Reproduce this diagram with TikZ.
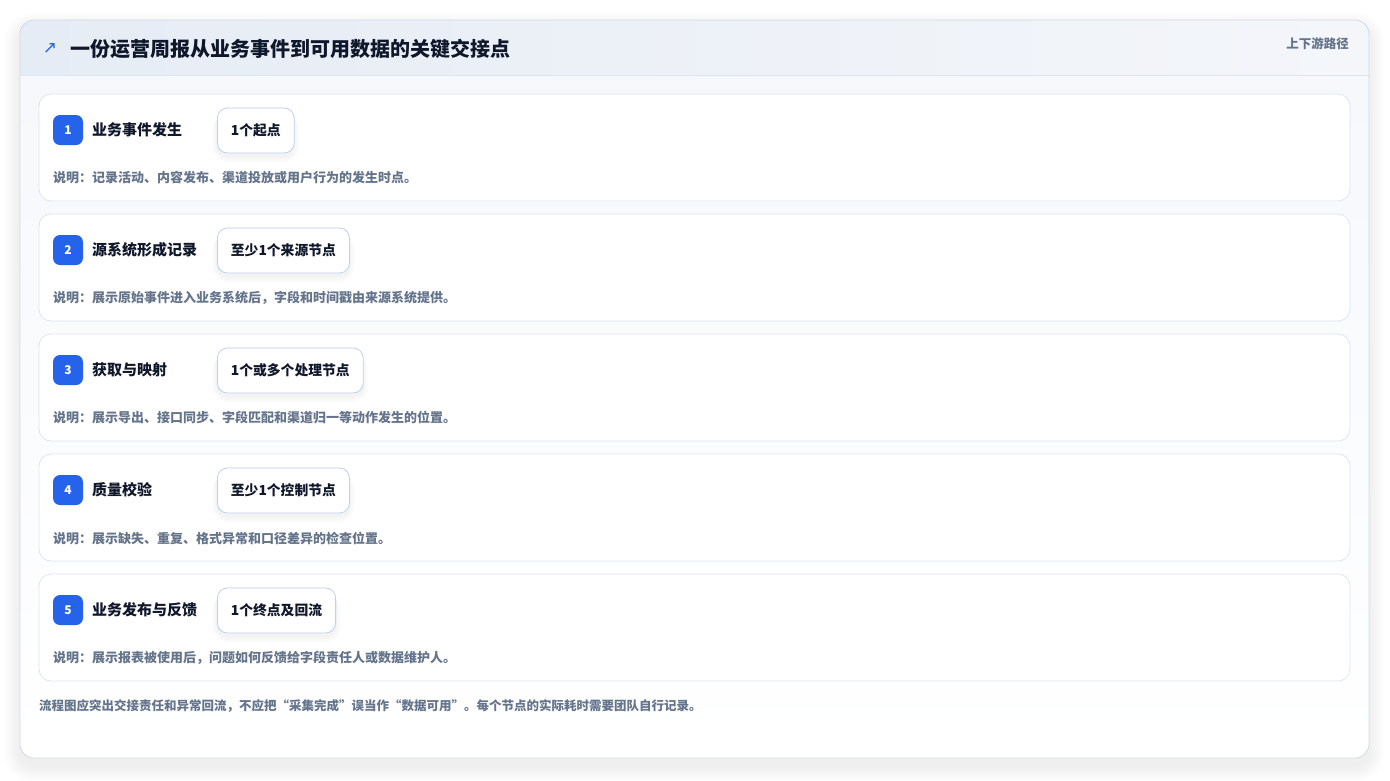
\documentclass[tikz,border=0pt]{standalone}
\usepackage{fontspec}
\setmainfont{Noto Sans CJK SC}
\newfontfamily\dejavu{DejaVu Sans}
\definecolor{ink}{HTML}{0F172A}
\definecolor{muted}{HTML}{64748B}
\definecolor{blue}{HTML}{2563EB}
\definecolor{cardborder}{HTML}{D3DAE5}
\definecolor{hdrL}{HTML}{E6ECF5}
\definecolor{hdrR}{HTML}{F4F6FA}
\definecolor{hdrline}{HTML}{DCE5F1}
\definecolor{bodytop}{HTML}{F6F8FC}
\definecolor{stepborder}{HTML}{DCE6F2}
\definecolor{pillborder}{HTML}{BDD0EC}
\definecolor{shadowc}{HTML}{1E293B}
\tikzset{
  stepbox/.style={draw=stepborder, fill=white, rounded corners=12pt, line width=0.8pt},
  badge/.style={fill=blue, text=white, rounded corners=7pt, minimum width=30pt, minimum height=30pt, inner sep=0pt, font=\fontsize{12}{14}\selectfont\bfseries},
  steptitle/.style={anchor=west, inner sep=0pt, text=ink, font=\fontsize{15}{17}\selectfont\bfseries},
  pill/.style={anchor=west, draw=pillborder, fill=white, rounded corners=10pt, minimum height=45pt, inner xsep=13.5pt, line width=0.8pt, text=ink, font=\fontsize{13.8}{16}\selectfont\bfseries},
  desc/.style={anchor=west, inner sep=0pt, text=muted, font=\fontsize{13}{15}\selectfont\bfseries},
  softshade/.style={fill=shadowc, fill opacity=#1},
}
\begin{document}
\begin{tikzpicture}[x=1pt,y=-1pt]
\useasboundingbox (0,0) rectangle (1390,780);
\fill[white] (0,0) rectangle (1390,780);
% card shadow
\foreach \k in {1,...,16}{
  \fill[softshade=0.0045, rounded corners=14pt+\k pt] (20-\k,20-\k+8) rectangle (1369+\k,758+\k+8);
}
\begin{scope}
  \clip[rounded corners=14pt] (20,20) rectangle (1369,758);
  \fill[white] (20,20) rectangle (1369,758);
  \shade[top color=bodytop, bottom color=white] (20,75) rectangle (1369,758);
  \shade[left color=hdrL, right color=hdrR] (20,20) rectangle (1369,75);
\end{scope}
\draw[hdrline, line width=0.8pt] (20,75) -- (1369,75);
\draw[cardborder, line width=0.8pt, rounded corners=14pt] (20,20) rectangle (1369,758);
% header
\node[anchor=center, inner sep=0pt, text=blue, font=\dejavu\fontsize{17}{18}\selectfont] (icon) at (50,49) {↗};
\node[anchor=west, inner sep=0pt, text=ink, font=\fontsize{20}{22}\selectfont\bfseries] (title) at (70,49) {一份运营周报从业务事件到可用数据的关键交接点};
\node[anchor=east, inner sep=0pt, text=muted, font=\fontsize{12.5}{15}\selectfont\bfseries] (tag) at (1349,44) {上下游路径};
% steps
\foreach \i/\t/\p in {
  1/业务事件发生/1个起点,
  2/源系统形成记录/至少1个来源节点,
  3/获取与映射/1个或多个处理节点,
  4/质量校验/至少1个控制节点,
  5/业务发布与反馈/1个终点及回流}{
  \pgfmathsetmacro{\yy}{94+120*(\i-1)}
  \draw[stepbox] (39,\yy) rectangle (1350,\yy+107);
  \node[badge] (b\i) at (68,\yy+36) {\i};
  \node[steptitle] (t\i) at (92,\yy+36) {\t};
  \node[pill, opacity=0] (q\i) at (217,\yy+36.5) {\p};
  \foreach \k in {1,...,6}{
    \fill[softshade=0.007, rounded corners=10pt+\k pt] ([xshift=-\k pt+1pt, yshift=-\k pt-2pt]q\i.north west) rectangle ([xshift=\k pt-1pt, yshift=-\k pt-3pt]q\i.south east);
  }
  \node[pill] (p\i) at (217,\yy+36.5) {\p};
}
\foreach \i/\d in {
  1/说明：记录活动、内容发布、渠道投放或用户行为的发生时点。,
  2/说明：展示原始事件进入业务系统后，字段和时间戳由来源系统提供。,
  3/说明：展示导出、接口同步、字段匹配和渠道归一等动作发生的位置。,
  4/说明：展示缺失、重复、格式异常和口径差异的检查位置。,
  5/说明：展示报表被使用后，问题如何反馈给字段责任人或数据维护人。}{
  \pgfmathsetmacro{\yy}{94+120*(\i-1)}
  \node[desc] (d\i) at (53,\yy+84) {\d};
}
\node[anchor=west, inner sep=0pt, text=muted, font=\fontsize{12.5}{15}\selectfont\bfseries] (foot) at (39,706) {流程图应突出交接责任和异常回流，不应把“采集完成”误当作“数据可用”。每个节点的实际耗时需要团队自行记录。};
\end{tikzpicture}
\end{document}
